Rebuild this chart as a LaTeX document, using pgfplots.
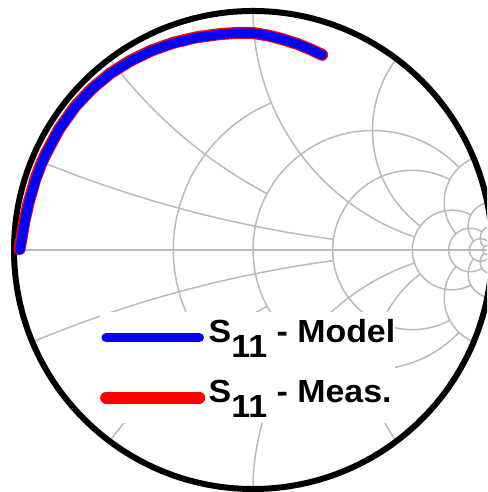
\documentclass[border=0pt]{standalone}
\usepackage{pgfplots}
\pgfplotsset{compat=1.18}
\usepackage{fontspec}
\newfontfamily\arialfont{Liberation Sans}[FakeStretch=1.06]
\definecolor{gridgray}{RGB}{186,186,186}
\newcommand\garc[5]{\draw[gridgray, line width=1.5bp] (axis cs:#1,#2) ++(#4:#3) arc[start angle=#4, end angle=#5, radius=#3];}
\begin{document}
\begin{tikzpicture}
\begin{axis}[x=239bp, y=239bp,
  xmin=-1.0586, xmax=0.9791, ymin=-1.0126, ymax=1.0460,
  hide axis, clip=true,
  reverse legend, legend cell align=left,
  legend style={at={(0.2053,0.3659)}, anchor=north west, draw=none, fill=white,
    inner xsep=0pt, inner ysep=6bp, row sep=21bp, column sep=3.5bp,
    nodes={inner sep=0pt, text height=24bp, text depth=15bp},
    font=\arialfont\bfseries\fontsize{32bp}{38bp}\selectfont},
  legend image code/.code={\path (0bp,0bp) -- (93bp,0bp);
    \draw[#1, line width=9.5bp, line cap=round] (6.9bp,0bp) -- (86.1bp,0bp);}]
% real axis
\draw[gridgray, line width=1.5bp] (axis cs:-1,0) -- (axis cs:1,0);
% resistance circles
\garc{0.33333}{0}{159.33bp}{112.62}{247.38}
\garc{0.5}{0}{119.5bp}{43.60}{316.40}
\garc{0.66667}{0}{79.667bp}{61.93}{298.07}
\garc{0.83333}{0}{39.833bp}{61.93}{298.07}
\garc{0.90909}{0}{21.727bp}{57.62}{302.38}
\garc{0.95238}{0}{11.381bp}{45.6}{314.4}
\draw[gridgray, line width=1.5bp] (axis cs:0.98039,0) circle[radius=4.686bp];
% reactance arcs (positive)
\garc{1}{5}{1195bp}{-112.62}{-97.63}
\garc{1}{2}{478bp}{-143.13}{-118.07}
\garc{1}{1}{239bp}{-180}{-108.92}
\garc{1}{0.5}{119.5bp}{-216.87}{-126.87}
\garc{1}{0.2}{47.8bp}{-247.38}{-138.88}
\garc{1}{0.1}{23.9bp}{-258.58}{-140.92}
\garc{1}{0.05}{11.95bp}{-264.28}{-132.82}
\garc{1}{0.02}{4.78bp}{-267.71}{-90}
% reactance arcs (negative)
\garc{1}{-5}{1195bp}{112.62}{97.63}
\garc{1}{-2}{478bp}{143.13}{118.07}
\garc{1}{-1}{239bp}{180}{108.92}
\garc{1}{-0.5}{119.5bp}{216.87}{126.87}
\garc{1}{-0.2}{47.8bp}{247.38}{138.88}
\garc{1}{-0.1}{23.9bp}{258.58}{140.92}
\garc{1}{-0.05}{11.95bp}{264.28}{132.82}
\garc{1}{-0.02}{4.78bp}{267.71}{90}
% outer circle
\draw[black, line width=6bp] (axis cs:0,0) circle[radius=239bp];
% Measured S11
\addplot[red, line width=12bp, line cap=round, line join=round] coordinates {
(-0.9770,0.0040) (-0.9680,0.0520) (-0.9570,0.1180) (-0.9385,0.1990)
(-0.9110,0.2960) (-0.8873,0.3585) (-0.8660,0.4040) (-0.8110,0.5065)
(-0.7430,0.6020) (-0.6745,0.6748) (-0.5980,0.7385) (-0.5138,0.7915)
(-0.4252,0.8345) (-0.3330,0.8672) (-0.2385,0.8895) (-0.1432,0.9030)
(-0.0638,0.9085) (0.0002,0.9080) (0.0630,0.8975) (0.1242,0.8818)
(0.1836,0.8630) (0.2408,0.8395) (0.2893,0.8165)};
\addlegendentry{S\raisebox{-15bp}{11} - Meas.}
% Model S11
\addplot[blue, line width=9.5bp, line cap=round, line join=round] coordinates {
(-0.9750,0.0000) (-0.9667,0.0507) (-0.9548,0.1172) (-0.9371,0.1992)
(-0.9092,0.2954) (-0.8855,0.3578) (-0.8655,0.4036) (-0.8099,0.5061)
(-0.7422,0.6010) (-0.6739,0.6739) (-0.5972,0.7375) (-0.5130,0.7900)
(-0.4245,0.8331) (-0.3322,0.8654) (-0.2379,0.8877) (-0.1428,0.9018)
(-0.0635,0.9078) (0.0000,0.9070) (0.0627,0.8968) (0.1239,0.8813)
(0.1834,0.8627) (0.2406,0.8392) (0.2891,0.8163)};
\addlegendentry{S\raisebox{-15bp}{11} - Model}
\end{axis}
\pgfresetboundingbox
\useasboundingbox (current axis.south west) rectangle (current axis.north east);
\end{tikzpicture}
\end{document}
